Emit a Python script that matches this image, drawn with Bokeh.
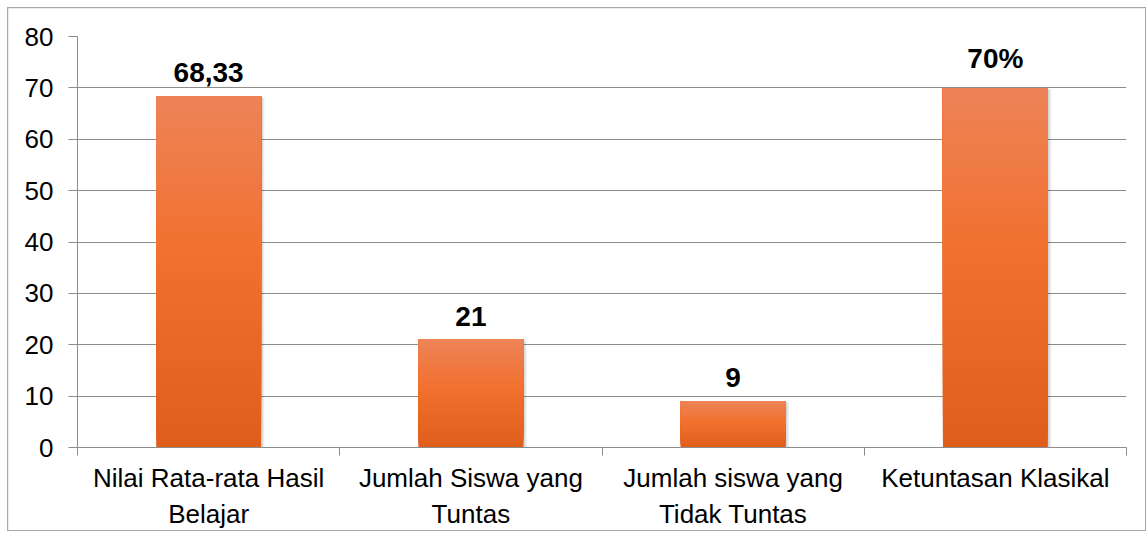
from bokeh.plotting import figure
from bokeh.models import Range1d, FixedTicker, ColumnDataSource
from bokeh.core.properties import value
from bokeh.embed import file_html
from bokeh.resources import INLINE

categories = ["Nilai Rata-rata Hasil\nBelajar", "Jumlah Siswa yang\nTuntas",
              "Jumlah siswa yang\nTidak Tuntas", "Ketuntasan Klasikal"]
values = [68.33, 21, 9, 70]
value_labels = ["68,33", "21", "9", "70%"]
y_ticks = [0, 10, 20, 30, 40, 50, 60, 70, 80]

FONT = "Liberation Sans"
BAR_W = 0.4

xs = [i + 0.5 for i in range(len(categories))]

p = figure(width=1139, height=524, output_backend="svg", toolbar_location=None,
           x_range=Range1d(0, len(categories)), y_range=Range1d(0, 80),
           min_border_left=69, min_border_right=21, min_border_top=28, min_border_bottom=82)
p.outline_line_color = None
p.background_fill_color = "white"
p.border_fill_color = "white"
p.styles = {"margin": "7px 0 0 7px", "border": "1px solid #a8a8a8",
            "box-shadow": "inset 3px 3px 0 #e4e4e4"}

def lerp(c1, c2, t):
    return tuple(int(round(a + (b - a) * t)) for a, b in zip(c1, c2))

bottom_c = (224, 94, 28)
mid_c = (242, 112, 46)
top_c = (237, 132, 88)

def grad(t):
    if t < 0.55:
        return lerp(bottom_c, mid_c, t / 0.55)
    return lerp(mid_c, top_c, (t - 0.55) / 0.45)

# soft shadow
p.vbar(x=[x + 0.007 for x in xs], top=[v - 0.3 for v in values], bottom=-1, width=BAR_W + 0.012,
       fill_color="black", fill_alpha=0.07, line_color=None)
p.vbar(x=[x + 0.004 for x in xs], top=[v - 0.15 for v in values], bottom=-1, width=BAR_W + 0.006,
       fill_color="black", fill_alpha=0.09, line_color=None)

N = 40
gx, gb, gt, gc = [], [], [], []
for x, v in zip(xs, values):
    for k in range(N):
        t0 = k / N
        t1 = (k + 1) / N
        gx.append(x)
        gb.append(v * t0)
        gt.append(v)
        gc.append("#%02x%02x%02x" % grad((t0 + t1) / 2))
p.vbar(x=gx, bottom=gb, top=gt, width=BAR_W, fill_color=gc, line_color=None)

src = ColumnDataSource(dict(x=xs, y=values, t=value_labels))
p.text(x="x", y="y", text="t", source=src, text_align="center", text_baseline="bottom",
       y_offset=-14, text_font=value(FONT), text_font_style="bold",
       text_font_size="28px", text_color="black")

# grid
p.xgrid.grid_line_color = None
p.ygrid.grid_line_color = "#8c8c8c"
p.ygrid.grid_line_width = 1
p.ygrid.ticker = FixedTicker(ticks=y_ticks)

# y axis
p.yaxis.ticker = FixedTicker(ticks=y_ticks)
p.yaxis.axis_line_color = "#8c8c8c"
p.yaxis.major_tick_line_color = "#8c8c8c"
p.yaxis.major_tick_out = 9
p.yaxis.major_tick_in = 0
p.yaxis.minor_tick_line_color = None
p.yaxis.major_label_standoff = 15
p.yaxis.major_label_text_font = FONT
p.yaxis.major_label_text_font_size = "26px"
p.yaxis.major_label_text_color = "black"

# x axis: labels at centers, ticks at boundaries
p.xaxis.ticker = FixedTicker(ticks=xs, minor_ticks=list(range(len(categories) + 1)))
p.xaxis.major_label_overrides = {x: c for x, c in zip(xs, categories)}
p.xaxis.axis_line_color = "#8c8c8c"
p.xaxis.major_tick_line_color = None
p.xaxis.major_tick_out = 0
p.xaxis.major_tick_in = 0
p.xaxis.minor_tick_line_color = "#8c8c8c"
p.xaxis.minor_tick_out = 8
p.xaxis.minor_tick_in = 0
p.xaxis.major_label_standoff = 7
p.xaxis.major_label_text_font = FONT
p.xaxis.major_label_text_font_size = "26px"
p.xaxis.major_label_text_color = "black"
p.xaxis.major_label_text_line_height = 1.22

open("out.html", "w").write(file_html(p, INLINE))
